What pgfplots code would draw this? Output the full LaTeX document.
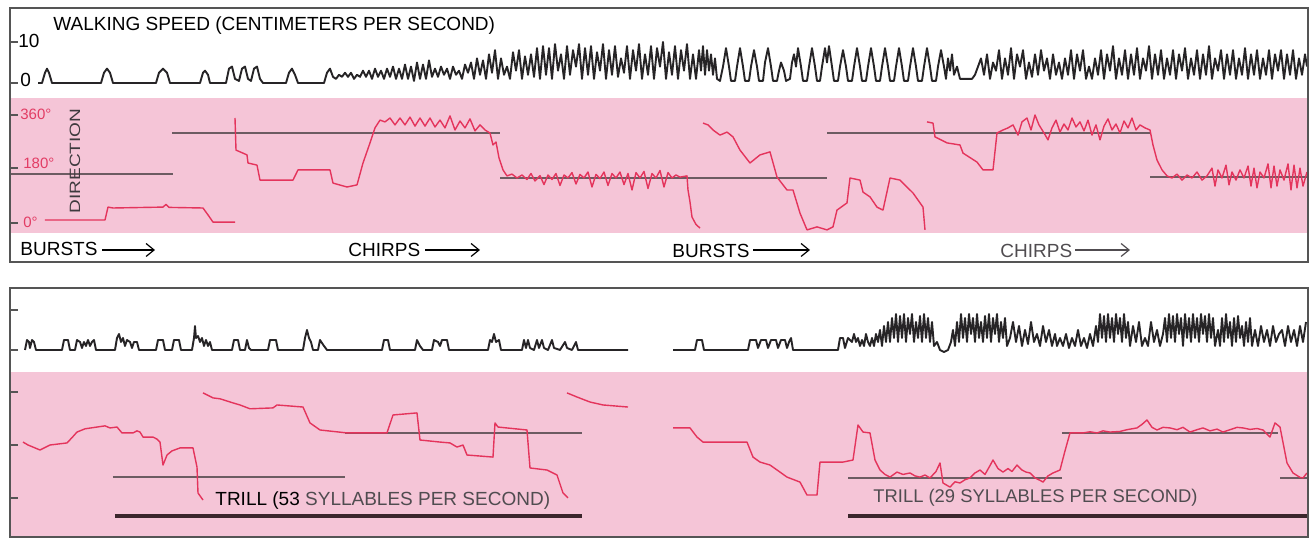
\documentclass[border=0pt]{standalone}
\usepackage{fontspec}
\setmainfont{Liberation Sans}
\usepackage{pgfplots}
\pgfplotsset{compat=1.18}
\usetikzlibrary{arrows.meta}
\definecolor{pinkbg}{RGB}{245,197,215}
\definecolor{trace}{RGB}{228,52,92}
\definecolor{guide}{RGB}{108,92,98}
\definecolor{ink}{RGB}{38,36,38}
\definecolor{framec}{RGB}{85,85,85}
\definecolor{lbl}{RGB}{226,60,100}
\definecolor{thickc}{RGB}{60,38,44}
\definecolor{grey2}{RGB}{80,76,80}
\definecolor{grey3}{RGB}{62,58,62}
\pgfplotsset{strip/.style={scale only axis, width=649pt, xmin=10, xmax=1308, hide axis, clip=false, anchor=south west},
 spd/.style={ink, line width=0.95pt, mark=none, line join=round},
 dir/.style={trace, line width=0.7pt, mark=none, line join=round},
 gl/.style={guide, line width=0.8pt, mark=none},
 tl/.style={thickc, line width=2pt, mark=none}}
\newcommand{\lf}{\fontsize{9.5}{11}\selectfont}
\begin{document}
\begin{tikzpicture}
\path[use as bounding box] (0,0) rectangle (657pt,270pt);
\fill[pinkbg] (5pt,153.5pt) rectangle (654pt,221pt);
\fill[pinkbg] (5pt,1.5pt) rectangle (654pt,84pt);
% ---------- top speed
\begin{axis}[strip, at={(5pt,221pt)}, height=45pt, ymin=-3.659, ymax=18.293]
\addplot[spd] coordinates {(38,0)(42,0)(45,2.5)(47,3.5)(49,2.5)(52,0)(101,0)(104,2.5)(107,3.5)(110,2.5)(113,0)(156,0)(159,2.5)(163,3.5)(167,2.5)(170,0)(200,0)(203,2.5)(205,3)(208,2)(210,0)(226,0)(229,3.5)(232,4)(235,1)(239,0.5)(242,3.5)(245,4)(248,1)(251,0.5)(254,3.5)(257,4)(260,1)(263,0)(286,0)(289,2.5)(292,3.5)(295,2)(298,0)(324,0)(327,2.5)(330,3.5)(333,1.5)(336,1)(339,2)(342,1.5)(345,2.5)(348,1.5)(351,2.5)(354,1)(357,2)(360,1.5)(363,3)(366,1.5)(369,3)(372,1)(375,3.5)(378,1.5)(381,3)(384,1)(387,3.5)(390,1.5)(393,4)(396,1)(399,3.5)(402,1)(405,4.5)(408,1)(411,4)(414,0.5)(417,5)(420,1)(423,4.5)(426,1)(429,5.5)(432,1.5)(435,3.5)(438,1.5)(441,4)(444,2)(447,3.5)(450,1)(453,4)(456,2)(459,3)(462,1)(465,4.5)(468,2.5)(471,5)(474,1)(477,6)(480,2)(483,5.5)(486,1)(489,7)(492,2.5)(495,8)(498,1)(501,6)(504,2)(507,4)(510,1)(513,7.5)(516,3)(519,8)(522,1)(525,6.5)(528,2)(531,7)(534,1.5)(537,8.5)(540,1)(543,9)(546,2)(549,8.5)(552,1)(555,9.5)(558,3)(561,7)(564,1)(567,9)(570,2)(573,8)(576,4)(579,9.5)(582,1)(585,8.5)(588,2)(591,9)(594,1)(597,7.5)(600,3)(603,9.5)(606,1)(609,8)(612,2)(615,9)(618,1.5)(621,6)(624,2.5)(627,9)(630,1)(633,8)(636,3)(639,9.5)(642,1)(645,7)(648,2)(651,9)(654,1)(657,8.5)(660,4)(663,10)(666,1)(669,7.5)(672,2)(675,9)(678,1)(681,8)(684,3)(687,9.5)(690,1)(693,7)(696,1)(699,8)(701,3)(703,9)(705,2)(707,8)(709,3)(711,7)(713,2)(715,6)(717,1)(720,0.5)(723,4)(726,8.5)(729,4)(731,0.5)(735,0.5)(737,4)(740,8.5)(743,4)(745,0.5)(749,0.5)(751,4)(754,8)(757,4)(759,0.5)(763,0.5)(765,5)(768,8.5)(771,4)(773,0.5)(777,0.5)(779,3)(781,5)(784,3)(786,0.5)(790,1)(792,5)(794,7)(796,4)(798,8.5)(801,4)(803,0.5)(807,0.5)(809,4)(812,8.5)(815,4)(817,0.5)(820,0.5)(822,4)(825,8.5)(827,5)(829,9)(832,4)(834,0.5)(838,0.5)(840,4)(843,8)(846,4)(848,0.5)(852,0.5)(854,4)(857,8.5)(860,4)(862,0.5)(866,0.5)(868,4)(871,8.5)(874,4)(876,0.5)(880,0.5)(882,4)(885,8.5)(888,4)(890,0.5)(894,0.5)(896,4)(899,8.5)(902,4)(904,0.5)(908,0.5)(910,4)(913,8.5)(916,4)(918,0.5)(922,0.5)(924,4)(927,8.5)(930,4)(932,0.5)(936,0.5)(938,4)(941,8)(944,4)(946,1)(948,6)(950,3)(952,7)(954,2)(957,4)(960,1)(964,1)(968,1)(972,1)(975,2)(978,4)(981,6)(984,2)(987,7)(990,1)(993,5)(996,3)(999,8)(1002,1)(1005,6)(1008,2)(1011,8.5)(1014,1)(1017,7)(1020,4)(1023,8)(1026,1)(1029,5)(1032,1.5)(1035,7)(1038,2)(1041,8)(1044,3)(1047,6)(1050,1)(1053,7)(1056,2)(1059,5)(1062,1)(1065,6)(1068,2)(1071,8)(1074,1)(1077,7)(1080,3)(1083,8)(1086,1)(1089,4)(1092,1)(1095,6)(1098,2)(1101,8)(1104,1)(1107,7)(1110,3)(1113,9)(1116,1)(1119,6)(1122,2)(1125,8)(1128,1)(1131,7)(1134,2)(1137,8.5)(1140,1)(1143,6)(1146,3)(1149,9)(1152,1)(1155,7)(1158,2)(1161,8)(1164,1)(1167,6)(1170,2)(1173,8)(1176,1)(1179,7)(1182,3)(1185,8.5)(1188,1)(1191,6)(1194,2)(1197,8)(1200,1)(1203,7)(1206,2)(1209,9)(1212,1)(1215,6)(1218,3)(1221,8)(1224,1)(1227,7)(1230,2)(1233,8)(1236,1)(1239,6)(1242,2)(1245,8.5)(1248,1)(1251,7)(1254,2)(1257,8)(1260,1)(1263,6)(1266,2)(1269,8)(1272,1)(1275,7)(1278,3)(1281,8)(1284,1)(1287,7)(1290,2)(1293,8)(1296,1)(1299,6)(1302,2)(1305,7)(1307,4)};
\end{axis}
% ---------- top direction
\begin{axis}[strip, at={(5pt,153.5pt)}, height=67.5pt, ymin=-33.33, ymax=416.67]
\addplot[gl] coordinates {(10,163)(173,163)};
\addplot[gl] coordinates {(172,300)(500,300)};
\addplot[gl] coordinates {(500,150)(827,150)};
\addplot[gl] coordinates {(827,300)(1150,300)};
\addplot[gl] coordinates {(1150,153)(1308,153)};
\addplot[dir] coordinates {(45,10)(105,10)(108,53)(113,50)(163,53)(166,62)(169,52)(203,50)(208,27)(213,3)(235,3)};
\addplot[dir] coordinates {(235,350)(236,243)(247,227)(248,200)(257,193)(260,143)(293,143)(298,177)(330,177)(333,133)(347,120)(357,127)(363,200)(370,267)(375,317)(380,343)(385,337)(390,350)(395,327)(400,350)(405,327)(410,353)(415,323)(420,350)(425,323)(430,350)(435,320)(440,343)(445,317)(450,357)(455,310)(460,340)(465,317)(470,347)(475,307)(480,327)(485,310)(490,300)(493,260)(496,270)(499,217)(503,177)(507,157)(512,163)(517,150)(522,160)(527,145)(531,165)(535,140)(540,158)(544,128)(548,160)(552,145)(556,165)(560,125)(564,160)(568,150)(572,168)(576,130)(580,162)(584,150)(588,170)(592,120)(596,162)(600,148)(604,170)(608,125)(612,165)(616,150)(620,170)(624,128)(628,165)(632,110)(636,168)(640,150)(644,172)(648,115)(652,165)(656,150)(660,175)(664,120)(668,168)(672,150)(676,160)(680,153)(687,157)(688,110)(690,70)(692,20)(696,-5)(700,-17)};
\addplot[dir] coordinates {(703,333)(708,327)(713,310)(720,293)(727,303)(733,287)(740,243)(750,200)(760,227)(770,237)(777,153)(787,110)(793,110)(800,33)(807,-23)(817,-13)(827,-23)(833,-13)(837,43)(847,67)(850,150)(860,143)(863,103)(870,87)(877,53)(883,43)(890,150)(900,143)(913,100)(923,53)(925,-23)};
\addplot[dir] coordinates {(927,337)(933,333)(935,287)(947,267)(960,260)(963,233)(977,203)(983,177)(993,177)(997,300)(1003,310)(1008,317)(1013,327)(1018,293)(1022,337)(1027,350)(1031,310)(1035,360)(1039,327)(1044,300)(1048,277)(1052,317)(1056,343)(1060,303)(1064,330)(1068,310)(1072,350)(1076,320)(1080,337)(1084,307)(1088,343)(1092,293)(1096,327)(1100,277)(1104,323)(1108,347)(1112,310)(1116,330)(1120,300)(1124,340)(1128,317)(1132,350)(1136,310)(1140,327)(1145,317)(1150,310)(1153,260)(1157,210)(1162,177)(1167,157)(1172,150)(1177,163)(1182,143)(1187,160)(1192,150)(1197,170)(1202,143)(1207,157)(1212,183)(1215,123)(1218,177)(1222,150)(1226,193)(1229,127)(1232,170)(1236,143)(1240,177)(1244,150)(1248,190)(1251,123)(1254,183)(1257,117)(1260,170)(1264,150)(1268,197)(1271,117)(1274,190)(1277,123)(1280,177)(1284,143)(1288,197)(1291,110)(1294,193)(1297,117)(1300,183)(1303,123)(1307,170)};
\end{axis}
% ---------- bottom speed
\begin{axis}[strip, at={(5pt,84pt)}, height=42pt, ymin=-5.5, ymax=15.5]
\addplot[spd] coordinates {(25,0)(27,2.5)(29,2)(30,0.5)(32,2.5)(34,2)(36,0)(62,0)(64,2.5)(68,2.5)(70,0)(75,0)(77,2.5)(80,2)(82,0.5)(84,2)(86,1)(88,2.5)(90,1)(92,2)(94,2.5)(96,0)(115,0)(117,3)(119,4)(121,2)(123,3)(125,1)(127,2.5)(130,2)(132,0.5)(134,2)(137,2)(139,0)(156,0)(158,2.5)(163,2.5)(165,0)(172,0)(174,2.5)(179,2.5)(181,0)(192,0)(194,3)(195,6)(196,3)(198,3.5)(200,2)(202,3)(204,1)(206,2.5)(208,1)(210,2)(212,0)(232,0)(234,2.5)(238,2.5)(240,0)(245,0)(247,2.5)(249,0.5)(251,0)(268,0)(270,2.5)(276,2.5)(278,0)(303,0)(305,3)(307,5)(309,3)(311,2)(313,0)(318,0)(320,2.5)(324,1)(327,0)(382,0)(384,2.5)(388,2.5)(390,0)(415,0)(417,2.5)(420,1)(423,0)(432,0)(434,2.5)(438,2)(440,1)(442,2.5)(447,2.5)(449,0)(488,0)(490,2.5)(492,2)(494,4)(496,2)(499,2.5)(501,0)(522,0)(524,2.5)(526,0.5)(528,2.5)(530,0.5)(534,0)(537,2.5)(539,0.5)(542,2.5)(544,0.5)(548,0)(552,2.5)(554,0.5)(560,0)(565,2)(567,0.5)(572,0)(576,2)(578,0)(628,0)};
\addplot[spd] coordinates {(673,0)(695,0)(697,2.5)(702,2.5)(704,0)(748,0)(750,2.5)(756,2.5)(758,0.5)(761,2.5)(766,2.5)(768,0.5)(771,2.5)(776,2.5)(778,0.5)(781,2.5)(785,2.5)(787,0.5)(789,2)(791,3)(793,0)(838,0)(840,3)(843,3)(845,0.5)(848,3)(852,2)(854,4)(856,2)(858,3)(860,1)(862,2.5)(864,1)(866,4)(868,2)(870,1)(872,3)(874,1)(876,4)(878,2)(880,5)(882,1)(884,6)(886,2)(888,7)(890,2)(892,8)(894,3)(896,9)(898,2)(900,8.5)(902,3)(904,9)(906,2)(908,8)(910,4)(912,9)(914,2)(916,7)(918,3)(920,8.5)(922,2)(924,9)(926,3)(928,8)(930,2)(932,7)(934,1)(937,2)(940,0)(944,-0.5)(948,0)(951,2)(953,5)(955,1)(957,7)(959,2)(961,9)(963,3)(965,8)(967,2)(969,9)(971,4)(973,8)(975,2)(977,9)(979,3)(981,7)(983,2)(985,8.5)(987,3)(989,9)(991,2)(993,8)(995,4)(997,9)(999,2)(1001,7)(1003,3)(1005,8)(1007,1)(1010,3)(1013,7)(1016,2)(1019,6)(1022,1)(1025,5)(1028,1.5)(1031,7)(1034,2)(1037,4)(1040,1)(1043,6)(1046,2)(1049,5)(1052,1)(1055,4)(1057,1)(1060,3)(1063,1)(1066,4)(1069,0.5)(1072,3)(1075,1)(1078,5)(1081,1)(1084,3)(1087,0.5)(1090,4)(1093,1)(1096,6)(1098,2)(1100,9)(1102,3)(1104,8.5)(1106,2)(1108,9)(1110,3)(1112,8)(1114,2)(1116,9)(1118,4)(1120,8)(1122,2)(1124,9)(1126,3)(1128,7)(1130,1)(1133,6)(1136,2)(1139,7)(1142,1)(1145,3)(1148,1)(1151,7)(1154,2)(1157,5)(1160,1)(1163,4)(1165,8)(1167,2)(1169,9)(1171,3)(1173,8.5)(1175,2)(1177,9)(1179,4)(1181,8)(1183,1)(1185,9)(1187,3)(1189,8)(1191,2)(1193,9)(1195,3)(1197,8)(1199,2)(1201,9)(1203,4)(1205,8.5)(1207,2)(1209,9)(1211,3)(1213,8)(1215,1)(1218,5)(1220,1)(1222,8)(1224,2)(1226,9)(1228,3)(1230,7)(1232,1)(1234,8)(1236,2)(1238,8.5)(1240,3)(1242,6)(1244,1)(1246,7)(1248,2)(1250,8)(1252,1)(1255,5)(1258,1)(1261,6)(1264,2)(1267,5)(1270,1)(1273,6)(1276,2)(1279,4)(1282,5)(1285,1)(1288,6)(1291,2)(1294,5)(1297,1)(1300,6)(1303,2)(1306,7)};
\end{axis}
% ---------- bottom direction
\begin{axis}[strip, at={(5pt,1.5pt)}, height=82.5pt, ymin=-132.5, ymax=428]
\addplot[gl] coordinates {(113,71)(345,71)};
\addplot[gl] coordinates {(345,221)(582,221)};
\addplot[gl] coordinates {(848,68)(1062,68)};
\addplot[gl] coordinates {(1062,221)(1278,221)};
\addplot[gl] coordinates {(1280,68)(1308,68)};
\addplot[tl] coordinates {(115,-61)(582,-61)};
\addplot[tl] coordinates {(848,-61)(1308,-61)};
\addplot[dir] coordinates {(23,190)(28,180)(33,173)(40,163)(50,180)(67,187)(72,205)(77,224)(85,235)(97,241)(105,245)(110,238)(117,241)(122,221)(133,221)(137,228)(140,224)(143,207)(153,207)(157,200)(160,190)(163,112)(167,146)(172,160)(180,170)(193,170)(197,105)(198,17)(203,-7)};
\addplot[dir] coordinates {(203,357)(213,340)(220,337)(233,323)(240,316)(250,303)(273,306)(277,316)(303,309)(310,255)(320,231)(347,221)(387,221)(393,282)(417,289)(420,197)(440,190)(450,187)(457,173)(463,180)(467,146)(493,139)(495,255)(498,241)(527,231)(530,102)(547,95)(557,78)(563,17)(568,0)};
\addplot[dir] coordinates {(567,357)(577,343)(590,326)(603,316)(628,309)};
\addplot[dir] coordinates {(673,238)(690,238)(697,207)(703,190)(747,190)(753,139)(760,122)(770,112)(780,88)(787,71)(800,54)(807,10)(817,10)(820,122)(843,122)(853,129)(858,248)(863,224)(870,221)(875,129)(880,95)(885,80)(890,71)(897,88)(903,80)(910,85)(915,75)(920,71)(925,78)(930,68)(936,90)(940,119)(943,51)(950,37)(955,55)(960,51)(965,62)(970,68)(975,85)(980,95)(985,80)(990,110)(993,129)(998,100)(1003,88)(1008,100)(1012,90)(1017,112)(1022,95)(1026,88)(1030,85)(1035,68)(1040,60)(1043,54)(1048,75)(1053,85)(1060,95)(1065,160)(1070,221)(1083,221)(1090,225)(1097,221)(1103,228)(1110,224)(1120,226)(1127,232)(1137,238)(1142,250)(1147,265)(1152,240)(1157,231)(1163,240)(1170,238)(1177,232)(1183,240)(1190,224)(1197,232)(1203,238)(1210,228)(1217,234)(1223,224)(1230,232)(1237,240)(1243,238)(1250,233)(1257,236)(1263,231)(1270,207)(1275,255)(1280,241)(1287,119)(1293,85)(1300,70)(1303,68)(1307,85)};
\end{axis}
% ---------- frames, ticks, labels
\draw[framec, line width=0.6pt] (5pt,139pt) rectangle (654pt,266pt);
\draw[framec, line width=0.6pt] (5pt,1.5pt) rectangle (654pt,126pt);
\foreach \y in {249,228.5,212.5,186,158.5,115,95,74,47.5,21}{\draw[framec, line width=0.6pt] (5pt,\y pt) -- (9pt,\y pt);}
\node[anchor=base west, inner sep=0, font=\lf] at (9pt,246pt) {10};
\node[anchor=base west, inner sep=0, font=\lf] at (10pt,226.5pt) {0};
\node[anchor=base west, inner sep=0, font=\lf] at (26.5pt,254.5pt) {WALKING SPEED (CENTIMETERS PER SECOND)};
\node[anchor=base west, inner sep=0, font=\fontsize{7.5}{9}\selectfont, text=lbl] at (10pt,210pt) {360°};
\node[anchor=base west, inner sep=0, font=\fontsize{7.5}{9}\selectfont, text=lbl] at (11.5pt,185.5pt) {180°};
\node[anchor=base west, inner sep=0, font=\fontsize{7.5}{9}\selectfont, text=lbl] at (11.5pt,156pt) {0°};
\node[rotate=90, inner sep=0, text=grey3] at (37.5pt,189.5pt) {\scalebox{1.4}[1.1]{\fontsize{6.8}{7}\selectfont DIRECTION}};
\node[anchor=base west, inner sep=0, font=\lf] at (10pt,142pt) {BURSTS};
\draw[line width=0.6pt, -{Straight Barb[length=4pt,width=6.5pt]}] (51pt,145pt) -- (77.5pt,145pt);
\node[anchor=base west, inner sep=0, font=\lf] at (174pt,141.5pt) {CHIRPS};
\draw[line width=0.6pt, -{Straight Barb[length=4pt,width=6.5pt]}] (212.5pt,145pt) -- (240pt,145pt);
\node[anchor=base west, inner sep=0, font=\lf] at (336pt,141pt) {BURSTS};
\draw[line width=0.6pt, -{Straight Barb[length=4pt,width=6.5pt]}] (376.5pt,145pt) -- (405pt,145pt);
\node[anchor=base west, inner sep=0, font=\lf, text=grey2] at (500pt,141pt) {CHIRPS};
\draw[grey2, line width=0.6pt, -{Straight Barb[length=4pt,width=6.5pt]}] (537.5pt,145pt) -- (565pt,145pt);
\node[anchor=base west, inner sep=0, font=\lf] at (107.5pt,17pt) {TRILL (53 \textcolor{grey2}{SYLLABLES PER SECOND)}};
\node[anchor=base west, inner sep=0, font=\fontsize{9.2}{11}\selectfont, text=grey2] at (436.5pt,18.5pt) {TRILL (29 SYLLABLES PER SECOND)};
\end{tikzpicture}
\end{document}
